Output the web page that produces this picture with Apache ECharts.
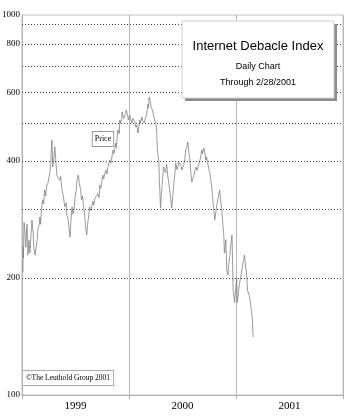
<!DOCTYPE html>
<html>
<head>
<meta charset="utf-8">
<script src="https://cdn.jsdelivr.net/npm/echarts@6/dist/echarts.min.js"></script>
<style>html,body{margin:0;padding:0;background:#fff}#c{width:350px;height:418px}</style>
</head>
<body>
<div id="c"></div>
<script>
// ---- data ----
const dates = [
'1999-01-04','1999-01-05','1999-01-06','1999-01-08','1999-01-11','1999-01-13','1999-01-14','1999-01-18','1999-01-20','1999-01-21',
'1999-01-25','1999-01-27','1999-01-28','1999-02-01','1999-02-04','1999-02-08','1999-02-10','1999-02-15','1999-02-17','1999-02-22',
'1999-02-24','1999-03-01','1999-03-03','1999-03-05','1999-03-09','1999-03-12','1999-03-16','1999-03-19','1999-03-23','1999-03-26',
'1999-03-30','1999-04-06','1999-04-09','1999-04-13','1999-04-16','1999-04-20','1999-04-23','1999-04-27','1999-04-30','1999-05-06',
'1999-05-10','1999-05-13','1999-05-17','1999-05-24','1999-05-27','1999-06-01','1999-06-03','1999-06-07','1999-06-10','1999-06-14',
'1999-06-17','1999-06-21','1999-06-24','1999-06-28','1999-07-01','1999-07-06','1999-07-07','1999-07-12','1999-07-14','1999-07-16',
'1999-07-20','1999-07-23','1999-07-27','1999-07-30','1999-08-03','1999-08-06','1999-08-10','1999-08-13','1999-08-17','1999-08-20',
'1999-08-24','1999-08-27','1999-08-31','1999-09-03','1999-09-07','1999-09-10','1999-09-14','1999-09-17','1999-09-21','1999-09-24',
'1999-09-27','1999-09-30','1999-10-04','1999-10-07','1999-10-11','1999-10-14','1999-10-18','1999-10-21','1999-10-25','1999-10-28',
'1999-11-01','1999-11-04','1999-11-08','1999-11-11','1999-11-15','1999-11-17','1999-11-19','1999-11-24','1999-11-29','1999-12-01',
'1999-12-03','1999-12-07','1999-12-09','1999-12-14','1999-12-16','1999-12-21','1999-12-23','1999-12-28','1999-12-30',
'2000-01-04','2000-01-07','2000-01-11','2000-01-14','2000-01-18','2000-01-21','2000-01-25','2000-01-28','2000-02-01','2000-02-04',
'2000-02-07','2000-02-10','2000-02-14','2000-02-17','2000-02-22','2000-02-25','2000-02-28','2000-03-02','2000-03-06','2000-03-08',
'2000-03-10','2000-03-15','2000-03-17','2000-03-22','2000-03-24','2000-03-29','2000-04-03','2000-04-05','2000-04-07','2000-04-12',
'2000-04-14','2000-04-18','2000-04-20','2000-04-25','2000-04-28','2000-05-02','2000-05-05','2000-05-09','2000-05-12','2000-05-16',
'2000-05-19','2000-05-23','2000-05-26','2000-05-30','2000-06-02','2000-06-06','2000-06-09','2000-06-13','2000-06-16','2000-06-20',
'2000-06-23','2000-06-27','2000-06-30','2000-07-06','2000-07-10','2000-07-13','2000-07-17','2000-07-20','2000-07-24','2000-07-27',
'2000-07-31','2000-08-03','2000-08-07','2000-08-10','2000-08-14','2000-08-17','2000-08-21','2000-08-24','2000-08-28','2000-08-31',
'2000-09-06','2000-09-08','2000-09-13','2000-09-15','2000-09-20','2000-09-22','2000-09-27','2000-09-29','2000-10-03','2000-10-06',
'2000-10-10','2000-10-13','2000-10-17','2000-10-20','2000-10-24','2000-10-27','2000-11-01','2000-11-06','2000-11-09','2000-11-13',
'2000-11-16','2000-11-20','2000-11-22','2000-11-27','2000-11-30','2000-12-04','2000-12-07','2000-12-11','2000-12-14','2000-12-18',
'2000-12-20','2000-12-22','2000-12-27','2000-12-29',
'2001-01-03','2001-01-05','2001-01-09','2001-01-12','2001-01-16','2001-01-19','2001-01-23','2001-01-26','2001-01-30','2001-02-02',
'2001-02-06','2001-02-09','2001-02-13','2001-02-16','2001-02-20','2001-02-22','2001-02-26','2001-02-28'
];
const values = [
207,240,225,278,265,245,240,275,255,229,
250,238,232,260,282,262,240,229,236,251,
266,275,287,275,300,318,310,337,325,345,
350,373,395,453,386,410,435,395,368,372,
357,365,340,318,305,312,290,285,270,255,
280,305,292,300,322,340,355,368,360,350,
338,318,325,305,290,270,258,275,290,305,
298,300,315,308,321,318,326,330,322,347,
340,352,368,360,372,379,370,385,395,402,
395,410,427,418,420,445,432,481,470,510,
500,512,535,515,519,530,541,522,510,
525,512,501,515,519,505,489,495,472,490,
510,500,519,508,501,512,519,530,560,548,
584,564,548,541,528,510,495,470,427,400,
357,303,320,360,386,378,373,392,368,352,
337,318,303,325,347,372,395,380,386,398,
402,388,379,391,405,427,435,448,420,402,
370,353,362,368,380,386,378,386,395,402,
427,418,432,425,402,410,391,384,375,360,
343,320,299,282,296,308,322,337,318,299,
279,258,232,251,210,204,218,229,245,258,
220,186,173,182,
200,173,185,192,200,206,215,222,229,215,
204,186,182,179,170,165,156,141
];
const yearLabels = ['1999', '2000', '2001'];
const gridValues = [200, 300, 400, 500, 600, 700, 800, 900];
const labeledValues = [100, 200, 400, 600, 800];
const axisMin = 100;
const axisMax = 950;
const topLabel = '1000';
const xStart = '1999-01-01';
const xEnd = '2002-01-01';

// ---- chart ----
const chart = echarts.init(document.getElementById('c'), null, {renderer: 'canvas'});
const labelFont = {fontFamily: 'Liberation Serif', fontSize: 9, color: '#000'};
const hidden = {color: 'rgba(0,0,0,0)'};

const lineMarks = gridValues.map(v => ({
  yAxis: v,
  label: {show: labeledValues.includes(v), formatter: String(v)}
}));
lineMarks.push({yAxis: axisMin, label: {show: true, formatter: String(axisMin)}, lineStyle: hidden});
lineMarks.push({yAxis: axisMax, label: {show: true, formatter: topLabel}, lineStyle: hidden});

const sans = '"Liberation Sans", Arial, sans-serif';

chart.setOption({
  animation: false,
  backgroundColor: '#fff',
  grid: {left: 22, right: 7, top: 15, bottom: 23, show: true, borderColor: '#c0c0c0', borderWidth: 1},
  xAxis: [
    {type: 'time', min: xStart, max: xEnd, show: false},
    {type: 'category', data: yearLabels, position: 'bottom', boundaryGap: true,
     axisLine: {show: true, lineStyle: {color: '#b0b0b0'}},
     axisTick: {show: true, length: 4, lineStyle: {color: '#b0b0b0'}},
     splitLine: {show: true, lineStyle: {color: '#b8b8b8', width: 1}},
     axisLabel: {fontFamily: 'Liberation Serif', fontSize: 11, color: '#000', margin: 6}}
  ],
  yAxis: {type: 'log', logBase: 10, min: axisMin, max: axisMax,
    axisLine: {show: true, lineStyle: {color: '#b0b0b0'}},
    axisTick: {show: false}, axisLabel: {show: false}, splitLine: {show: false}},
  series: [{
    type: 'line',
    xAxisIndex: 0,
    data: dates.map((d, i) => [d, values[i]]),
    showSymbol: false,
    lineStyle: {color: '#808080', width: 0.8},
    z: 3,
    markLine: {
      silent: true,
      symbol: ['none', 'none'],
      animation: false,
      lineStyle: {color: '#444', width: 1, type: [1, 2]},
      label: Object.assign({position: 'start', distance: 2}, labelFont),
      data: lineMarks
    }
  }],
  graphic: [
    {type: 'rect', z: 50, shape: {x: 185, y: 24, width: 152, height: 77}, style: {fill: '#8c8c8c'}},
    {type: 'rect', z: 51, shape: {x: 182, y: 21, width: 152, height: 77}, style: {fill: '#fff', stroke: '#d0d0d0', lineWidth: 1}},
    {type: 'text', z: 52, x: 258, y: 46, style: {text: 'Internet Debacle Index', textAlign: 'center', textVerticalAlign: 'middle', font: '13px ' + sans, fill: '#000'}},
    {type: 'text', z: 52, x: 258, y: 67, style: {text: 'Daily Chart', textAlign: 'center', textVerticalAlign: 'middle', font: '9px ' + sans, fill: '#000'}},
    {type: 'text', z: 52, x: 258, y: 83, style: {text: 'Through 2/28/2001', textAlign: 'center', textVerticalAlign: 'middle', font: '9px ' + sans, fill: '#000'}},
    {type: 'text', z: 52, x: 103, y: 139, style: {text: 'Price', textAlign: 'center', textVerticalAlign: 'middle', font: '8px "Liberation Serif", serif', fill: '#000', backgroundColor: '#fff', borderColor: '#999', borderWidth: 1, padding: [3, 2]}},
    {type: 'text', z: 52, x: 68, y: 378, style: {text: '©The Leuthold Group 2001', textAlign: 'center', textVerticalAlign: 'middle', font: '7.5px "Liberation Serif", serif', fill: '#000', backgroundColor: '#fff', borderColor: '#aaa', borderWidth: 1, padding: [3, 3]}}
  ]
});
</script>
</body>
</html>
